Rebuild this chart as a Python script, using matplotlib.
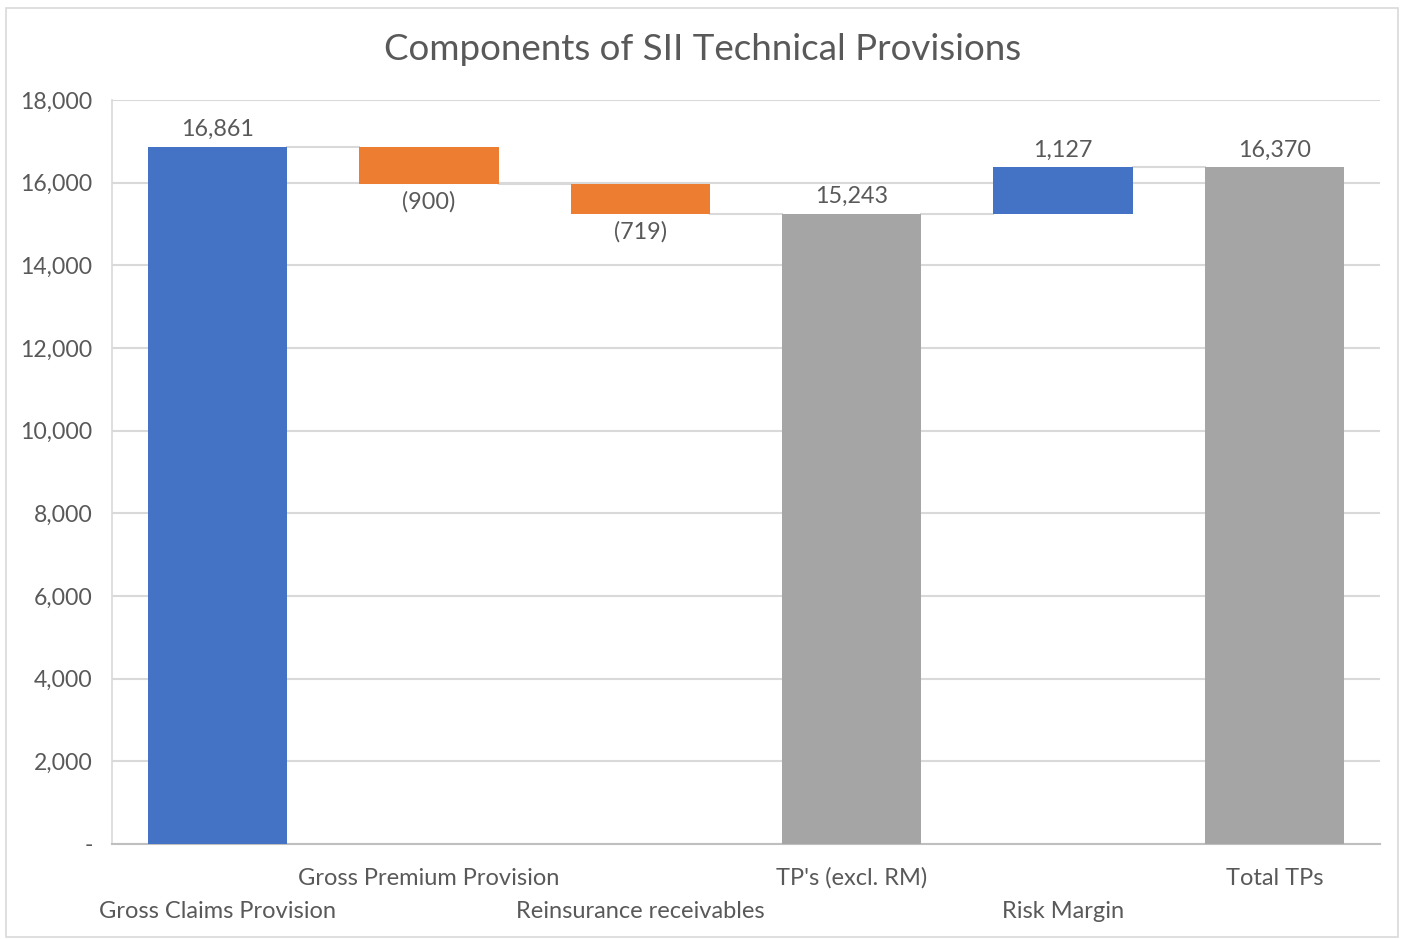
import matplotlib
matplotlib.use("Agg")
import matplotlib.pyplot as plt
from matplotlib.patches import Rectangle
from matplotlib.ticker import FuncFormatter

categories = ["Gross Claims Provision", "Gross Premium Provision", "Reinsurance receivables",
              "TP's (excl. RM)", "Risk Margin", "Total TPs"]
values = [16861, -900, -719, 15243, 1127, 16370]
is_total = [True, False, False, True, False, True]
labels = ["16,861", "(900)", "(719)", "15,243", "1,127", "16,370"]
yticks = [0, 2000, 4000, 6000, 8000, 10000, 12000, 14000, 16000, 18000]

BLUE = "#4472C4"
ORANGE = "#ED7D31"
GREY = "#A5A5A5"
TEXT = "#595959"
GRID = "#D9D9D9"

plt.rcParams["font.family"] = ["Lato", "DejaVu Sans"]

fig = plt.figure(figsize=(14.05, 9.39), dpi=100)
ax = fig.add_axes([112 / 1405, 1 - 844 / 939, (1380 - 112) / 1405, (844 - 100) / 939])

# outer chart border
fig.patches.append(Rectangle((6 / 1405, 1 - 937 / 939), (1398 - 6) / 1405, (937 - 8) / 939,
                             transform=fig.transFigure, fill=False, edgecolor="#D9D9D9",
                             linewidth=1.2))

width = 0.66
running = 0.0
tops = []
for i, (v, tot) in enumerate(zip(values, is_total)):
    if tot:
        bottom, height, color = 0, v, GREY
        running = v
    else:
        bottom = running if v >= 0 else running + v
        height = abs(v)
        color = BLUE if v >= 0 else ORANGE
        running = running + v
    if i == 0:
        color = BLUE
    ax.bar(i, height, bottom=bottom, width=width, color=color, zorder=3)
    tops.append(running)
    if v >= 0:
        ax.annotate(labels[i], (i, bottom + height), xytext=(0, 5), textcoords="offset points",
                    ha="center", va="bottom", fontsize=16.8, color=TEXT)
    else:
        ax.annotate(labels[i], (i, bottom), xytext=(0, -5), textcoords="offset points",
                    ha="center", va="top", fontsize=16.8, color=TEXT)

# connector lines between consecutive bars
for i in range(len(values) - 1):
    ax.plot([i + width / 2, i + 1 - width / 2], [tops[i], tops[i]], color=GRID,
            linewidth=1.5, zorder=2)

ax.set_xlim(-0.5, len(values) - 0.5)
ax.set_ylim(0, 18000)
ax.set_yticks(yticks)
ax.yaxis.set_major_formatter(FuncFormatter(lambda y, _: "-" if y == 0 else f"{int(y):,}"))
ax.grid(axis="y", color=GRID, linewidth=1.5, zorder=0)
ax.set_xticks([])
ax.tick_params(axis="y", length=0, pad=14, labelsize=16.6, labelcolor=TEXT)

for s in ["top", "right"]:
    ax.spines[s].set_visible(False)
ax.spines["left"].set_color(GRID)
ax.spines["left"].set_linewidth(1.2)
ax.spines["bottom"].set_color("#BFBFBF")
ax.spines["bottom"].set_linewidth(1.5)

# staggered category labels
for i, c in enumerate(categories):
    y = -0.046 if i % 2 else -0.091
    ax.text(i, y, c, transform=ax.get_xaxis_transform(), ha="center", va="center",
            fontsize=17, color=TEXT)

fig.text(0.5, 1 - 49 / 939, "Components of SII Technical Provisions", ha="center", va="center",
         fontsize=26.5, color=TEXT)

fig.savefig("out.png", dpi=100)
